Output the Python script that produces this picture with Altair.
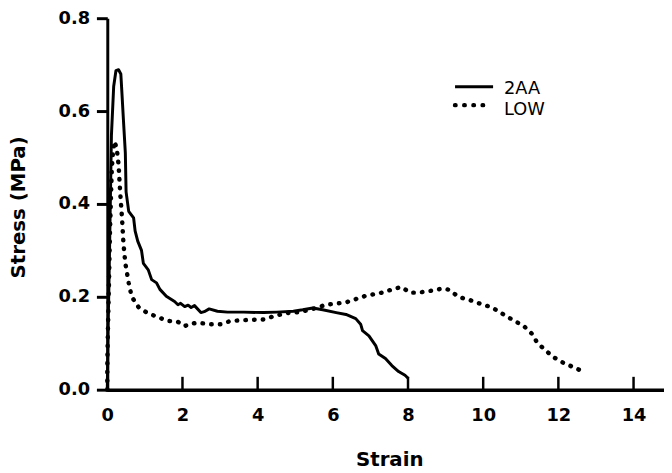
import altair as alt
import pandas as pd

# ---- data ----
series_names = ["2AA", "LOW"]

x_2aa = [0.0, 0.01, 0.02, 0.04, 0.06, 0.11, 0.17, 0.23, 0.30, 0.36, 0.39, 0.43, 0.48,
         0.50, 0.57, 0.70, 0.74, 0.81, 0.91, 0.96, 1.09, 1.18, 1.31, 1.40, 1.57, 1.79,
         1.88, 1.95, 2.06, 2.15, 2.23, 2.32, 2.49, 2.58, 2.71, 2.93, 3.20, 3.63, 4.16,
         4.51, 4.95, 5.20, 5.47, 5.73, 6.09, 6.35, 6.61, 6.74, 6.79, 6.96, 7.14, 7.22,
         7.40, 7.57, 7.75, 7.92, 8.01]
y_2aa = [0.0, 0.06, 0.13, 0.21, 0.30, 0.547, 0.653, 0.687, 0.689, 0.680, 0.638, 0.580,
         0.510, 0.426, 0.384, 0.370, 0.342, 0.320, 0.300, 0.272, 0.258, 0.237, 0.230,
         0.216, 0.201, 0.190, 0.183, 0.186, 0.179, 0.182, 0.177, 0.181, 0.166, 0.168,
         0.174, 0.169, 0.167, 0.167, 0.166, 0.167, 0.169, 0.172, 0.176, 0.172, 0.166,
         0.162, 0.153, 0.141, 0.127, 0.116, 0.095, 0.077, 0.067, 0.052, 0.039, 0.031,
         0.024]

x_low = [0.0, 0.0, 0.01, 0.02, 0.05, 0.07, 0.10, 0.12, 0.15, 0.19, 0.25, 0.30, 0.34,
         0.39, 0.43, 0.48, 0.57, 0.65, 0.83, 1.05, 1.35, 1.62, 1.88, 2.06, 2.20, 2.40,
         2.75, 3.02, 3.28, 3.72, 4.16, 4.42, 4.77, 5.12, 5.47, 5.82, 6.35, 6.87, 7.31,
         7.66, 7.83, 8.05, 8.27, 8.62, 8.93, 9.10, 9.19, 9.37, 9.61, 9.85, 10.24, 10.46,
         10.73, 11.08, 11.30, 11.43, 11.61, 11.87, 12.13, 12.44, 12.66]
y_low = [0.0, 0.05, 0.10, 0.14, 0.25, 0.335, 0.42, 0.475, 0.51, 0.535, 0.52, 0.485,
         0.428, 0.372, 0.315, 0.272, 0.230, 0.200, 0.178, 0.166, 0.156, 0.148, 0.146,
         0.137, 0.142, 0.144, 0.141, 0.141, 0.148, 0.150, 0.151, 0.158, 0.165, 0.167,
         0.174, 0.183, 0.188, 0.202, 0.209, 0.218, 0.221, 0.209, 0.209, 0.213, 0.218,
         0.215, 0.209, 0.199, 0.194, 0.187, 0.177, 0.166, 0.153, 0.137, 0.120, 0.102,
         0.088, 0.070, 0.058, 0.047, 0.039]

x_ticks = [0, 2, 4, 6, 8, 10, 12, 14]
y_ticks = [0.0, 0.2, 0.4, 0.6, 0.8]

rows = []
for i, (x, y) in enumerate(zip(x_2aa, y_2aa)):
    rows.append({"series": series_names[0], "i": i, "strain": x, "stress": y})
for i, (x, y) in enumerate(zip(x_low, y_low)):
    rows.append({"series": series_names[1], "i": i, "strain": x, "stress": y})
df = pd.DataFrame(rows)

H = 376
XMAX = 14.81
xscale = alt.Scale(domain=[0, XMAX], nice=False, zero=False)
yscale = alt.Scale(domain=[0, 0.8], nice=False)

FONT = "DejaVu Sans"

x_axis = alt.Axis(values=x_ticks, format="d", ticks=False, grid=False,
                  domainColor="black", domainWidth=3.5,
                  labelFont=FONT, labelFontWeight="bold", labelFontSize=18,
                  labelColor="black", labelPadding=17, labelFlush=False,
                  title="Strain", titleFont=FONT, titleFontWeight="bold",
                  titleFontSize=20, titleColor="black", titleX=285.4, titleY=71,
                  titleBaseline="middle", titleAlign="center")
y_axis = alt.Axis(values=y_ticks, format=".1f", grid=False,
                  domainColor="black", domainWidth=3,
                  tickColor="black", tickWidth=3, tickSize=11,
                  labelFont=FONT, labelFontWeight="bold", labelFontSize=18,
                  labelColor="black", labelPadding=7, labelFlush=False,
                  title="Stress (MPa)", titleFont=FONT, titleFontWeight="bold",
                  titleFontSize=20, titleColor="black", titleX=-89.5, titleY=191,
                  titleAngle=270, titleBaseline="middle", titleAlign="center")

base = alt.Chart(df)

solid = base.transform_filter(alt.datum.series == series_names[0]).mark_line(
    color="black", strokeWidth=3, strokeJoin="round"
).encode(
    x=alt.X("strain:Q", scale=xscale, axis=x_axis),
    y=alt.Y("stress:Q", scale=yscale, axis=y_axis),
    order="i:Q",
)

dotted = base.transform_filter(alt.datum.series == series_names[1]).mark_line(
    color="black", strokeWidth=4.5, strokeCap="round", strokeDash=[0.5, 8.3]
).encode(
    x=alt.X("strain:Q", scale=xscale),
    y=alt.Y("stress:Q", scale=yscale),
    order="i:Q",
)

# inward x ticks
tick_df = pd.DataFrame({"t": x_ticks})
xticks = alt.Chart(tick_df).mark_rule(color="black", strokeWidth=2.5).encode(
    x=alt.X("t:Q", scale=xscale),
    y=alt.value(H),
    y2=alt.value(H - 13),
)

# legend
leg1 = alt.Data(values=[{"label": series_names[0]}])
leg2 = alt.Data(values=[{"label": series_names[1]}])
leg_line = alt.Chart(leg1).mark_rule(color="black", strokeWidth=3).encode(
    x=alt.value(352), x2=alt.value(390.5), y=alt.value(69.3))
leg_dots = alt.Chart(leg2).mark_rule(
    color="black", strokeWidth=4.5, strokeCap="round", strokeDash=[0.5, 8.8]
).encode(x=alt.value(352), x2=alt.value(382), y=alt.value(88))
leg_t1 = alt.Chart(leg1).mark_text(align="left", baseline="middle", font=FONT,
                                   fontSize=18, color="black").encode(
    x=alt.value(401.5), y=alt.value(72), text="label:N")
leg_t2 = alt.Chart(leg2).mark_text(align="left", baseline="middle", font=FONT,
                                   fontSize=18, color="black").encode(
    x=alt.value(401.5), y=alt.value(92.5), text="label:N")

chart = alt.layer(solid, dotted, xticks, leg_line, leg_dots, leg_t1, leg_t2).properties(
    width=563.5, height=H,
    autosize=alt.AutoSizeParams(type="none"),
    padding={"left": 100.5, "top": 7.5, "right": 0, "bottom": 80},
).configure_view(strokeWidth=0)

chart.save("out.html", embed_options={"renderer": "svg", "actions": False})
